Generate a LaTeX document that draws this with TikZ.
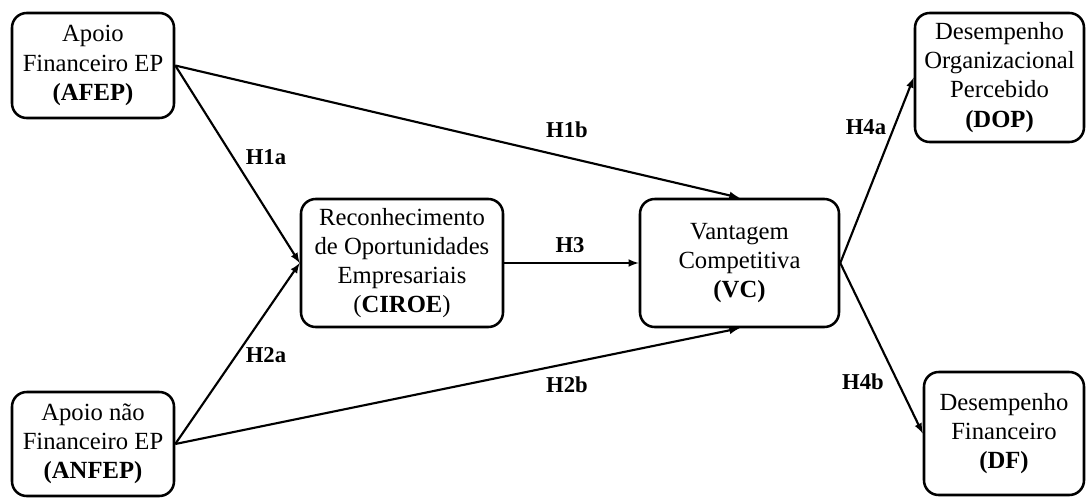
\documentclass[tikz,border=0pt]{standalone}
\usepackage{fontspec}
\setmainfont{Liberation Serif}
\usetikzlibrary{shapes,arrows}

\begin{document}
\begin{tikzpicture}[x=0.75pt,y=-0.75pt]
\tikzstyle{var}=[draw,line width=1.9pt,rounded corners=11pt,align=center,inner sep=0pt,font=\fontsize{18.5}{21.8}\selectfont];
\tikzstyle{hyp}=[font=\fontsize{17}{20}\selectfont\bfseries];
\tikzstyle{link}=[->,>=latex,line width=1.6pt];

\useasboundingbox (0,0) rectangle (1086,497);

\node[var,minimum width=121.5pt,minimum height=78.75pt] (afep) at (93,65.5) {Apoio\\Financeiro EP\\\textbf{(AFEP)}};
\node[var,minimum width=121.5pt,minimum height=78pt] (anfep) at (93,444) {Apoio não\\Financeiro EP\\\textbf{(ANFEP)}};
\node[var,minimum width=151.5pt,minimum height=96pt] (ciroe) at (402,263) {Reconhecimento\\de Oportunidades\\Empresariais\\(\textbf{CIROE})};
\node[var,minimum width=149.25pt,minimum height=96pt] (vc) at (739.5,263) {Vantagem\\Competitiva\\\textbf{(VC)}};
\node[var,minimum width=126.75pt,minimum height=96.75pt] (dop) at (999.5,77.5) {Desempenho\\Organizacional\\Percebido\\\textbf{(DOP)}};
\node[var,minimum width=120pt,minimum height=92.25pt] (df) at (1004,433.5) {Desempenho\\Financeiro\\\textbf{(DF)}};

\draw (afep.east) edge[link] (ciroe.west);
\draw (afep.east) edge[link] (vc.north);
\draw (anfep.east) edge[link] (ciroe.west);
\draw (anfep.east) edge[link] (vc.south);
\draw (ciroe.east) edge[link] (vc.west);
\draw (vc.east) edge[link] (dop.west);
\draw (vc.east) edge[link] (df.west);

\node[hyp] (h1a) at (266,157) {H1a};
\node[hyp] (h1b) at (567,130) {H1b};
\node[hyp] (h2a) at (266,355) {H2a};
\node[hyp] (h2b) at (567,385) {H2b};
\node[hyp] (h3) at (570,245) {H3};
\node[hyp] (h4a) at (866,127) {H4a};
\node[hyp] (h4b) at (863,382) {H4b};
\end{tikzpicture}
\end{document}
